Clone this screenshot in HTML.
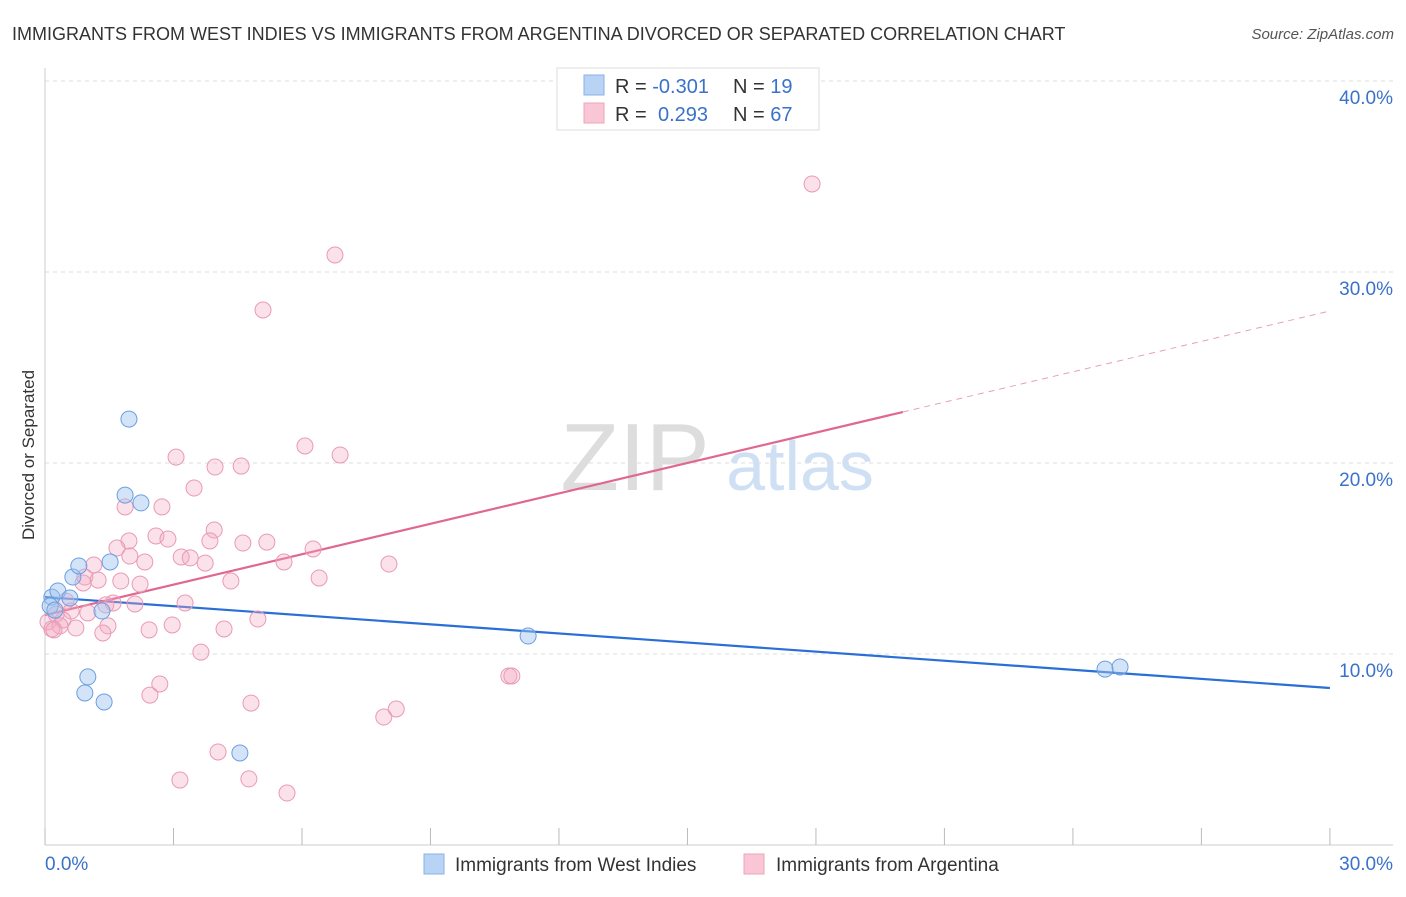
<!DOCTYPE html>
<html><head><meta charset="utf-8"><style>
body{margin:0;background:#fff;font-family:"Liberation Sans",sans-serif}
svg text{font-family:"Liberation Sans",sans-serif}
</style></head><body>
<svg id="chart" width="1406" height="892">
<text x="12" y="40" font-size="18" fill="#333">IMMIGRANTS FROM WEST INDIES VS IMMIGRANTS FROM ARGENTINA DIVORCED OR SEPARATED CORRELATION CHART</text>
<text x="1394" y="39" font-size="15" fill="#555" font-style="italic" text-anchor="end">Source: ZipAtlas.com</text>
<g>
<text x="635" y="490" font-size="96" fill="#ddd" text-anchor="middle" font-family="Liberation Serif">ZIP</text>
<text x="800" y="490" font-size="70" fill="#cfe0f4" text-anchor="middle">atlas</text>
</g>
<g id="grid"></g><g id="axes"></g><g id="lines"></g><g id="pts"></g>
<text transform="translate(34,455) rotate(-90)" font-size="17" fill="#333" text-anchor="middle">Divorced or Separated</text>
<g>
<rect x="557" y="68" width="262" height="62" fill="#fff" stroke="#ddd"/>
<rect x="584" y="75" width="20" height="20" fill="#b9d3f5" stroke="#8ab2e8"/>
<rect x="584" y="103" width="20" height="20" fill="#f9c6d6" stroke="#eea3bd"/>
<text x="615" y="93" font-size="20" fill="#333">R = <tspan fill="#3a72c9">-0.301</tspan><tspan x="733">N = </tspan><tspan fill="#3a72c9">19</tspan></text>
<text x="615" y="121" font-size="20" fill="#333">R = <tspan x="658" fill="#3a72c9">0.293</tspan><tspan x="733">N = </tspan><tspan fill="#3a72c9">67</tspan></text>
</g>
<g>
<rect x="424" y="854" width="20" height="20" fill="#b9d3f5" stroke="#8ab2e8"/>
<text x="455" y="871" font-size="19" fill="#333">Immigrants from West Indies</text>
<rect x="744" y="854" width="20" height="20" fill="#f9c6d6" stroke="#eea3bd"/>
<text x="776" y="871" font-size="19" fill="#333">Immigrants from Argentina</text>
</g>
</svg>
<script>
const yTicks=[10,20,30,40];
const yTickLabels=["10.0%","20.0%","30.0%","40.0%"];
const blueX=[0.16,0.30,0.12,0.23,0.58,0.65,0.79,1.52,1.33,1.00,0.93,1.38,1.96,1.87,2.24,4.55,11.28,24.75,25.10];
const blueY=[12.98,13.30,12.51,12.30,12.93,14.03,14.61,14.82,12.25,8.80,7.96,7.49,22.30,18.32,17.91,4.82,10.94,9.21,9.32];
const pinkX=[17.91,6.77,5.09,6.07,6.89,3.06,3.97,4.58,3.48,1.87,2.73,2.59,2.87,3.95,1.96,3.85,4.62,5.18,1.68,1.98,3.18,3.39,2.33,3.74,5.58,6.26,8.03,1.14,0.93,1.24,1.77,2.22,4.34,6.40,0.89,0.49,1.59,2.10,3.27,1.42,0.61,1.00,0.26,0.42,0.07,0.35,0.72,1.47,2.43,2.97,4.18,4.97,0.16,1.35,3.64,10.83,10.90,2.68,2.45,4.81,8.20,7.91,4.04,3.15,4.76,5.65,0.21];
const pinkY=[34.61,30.89,28.01,20.89,20.42,20.31,19.79,19.84,18.69,17.70,17.70,16.18,16.02,16.49,15.92,15.92,15.81,15.86,15.55,15.13,15.08,15.03,14.82,14.76,14.82,15.50,14.71,14.66,14.03,13.87,13.82,13.66,13.82,13.98,13.72,12.77,12.67,12.62,12.67,12.57,12.25,12.15,12.09,11.78,11.68,11.47,11.36,11.47,11.26,11.52,11.31,11.83,11.31,11.10,10.10,8.85,8.85,8.43,7.85,7.43,7.12,6.70,4.87,3.40,3.46,2.72,11.26];
const blueTrend=[12.98,8.22];
const pinkTrend=[12.04,27.96];
const pinkSolidEnd=20.03;
const NS="http://www.w3.org/2000/svg";
const X=v=>45+v*42.83, Y=v=>845-v*19.1;
function mk(p,tag,a){const e=document.createElementNS(NS,tag);for(const k in a)e.setAttribute(k,a[k]);document.getElementById(p).appendChild(e);return e;}
yTicks.forEach((t,i)=>{
 const g=mk('grid','line',{x1:45,x2:1393,y1:Y(t),y2:Y(t),stroke:'#ddd','stroke-dasharray':'4,4'});
 
 
 const l=mk('axes','text',{x:1393,y:Y(t)+23,'font-size':19,fill:'#3a72c9','text-anchor':'end'});l.textContent=yTickLabels[i];
 
 
});
mk('axes','line',{x1:45,x2:45,y1:68,y2:845,stroke:'#ccc'});
mk('axes','line',{x1:45,x2:1393,y1:845,y2:845,stroke:'#ccc'});
for(let i=0;i<=10;i++){const t=mk('axes','line',{x1:X(i*3),x2:X(i*3),y1:828,y2:845,stroke:'#bbb'});
 
 }
let a=mk('axes','text',{x:45,y:870,'font-size':19,fill:'#3a72c9'});a.textContent='0.0%';


a=mk('axes','text',{x:1393,y:870,'font-size':19,fill:'#3a72c9','text-anchor':'end'});a.textContent='30.0%';


const py=x=>pinkTrend[0]+(pinkTrend[1]-pinkTrend[0])*x/30;
let ln=mk('lines','line',{x1:X(0),y1:Y(blueTrend[0]),x2:X(30),y2:Y(blueTrend[1]),stroke:'#2a6fd6','stroke-width':2.2});


ln=mk('lines','line',{x1:X(0),y1:Y(py(0)),x2:X(pinkSolidEnd),y2:Y(py(pinkSolidEnd)),stroke:'#e06890','stroke-width':2.2});


ln=mk('lines','line',{x1:X(pinkSolidEnd),y1:Y(py(pinkSolidEnd)),x2:X(30),y2:Y(py(30)),stroke:'#e8a0b8','stroke-width':1,'stroke-dasharray':'6,5'});


pinkX.forEach((x,i)=>{const c=mk('pts','circle',{cx:X(x),cy:Y(pinkY[i]),r:8,fill:'rgba(244,170,195,0.35)',stroke:'#e99ab5','stroke-width':1});
 
 });
blueX.forEach((x,i)=>{const c=mk('pts','circle',{cx:X(x),cy:Y(blueY[i]),r:8,fill:'rgba(160,196,240,0.45)',stroke:'#6a9fe0','stroke-width':1});
 
 });
</script>
</body></html>
